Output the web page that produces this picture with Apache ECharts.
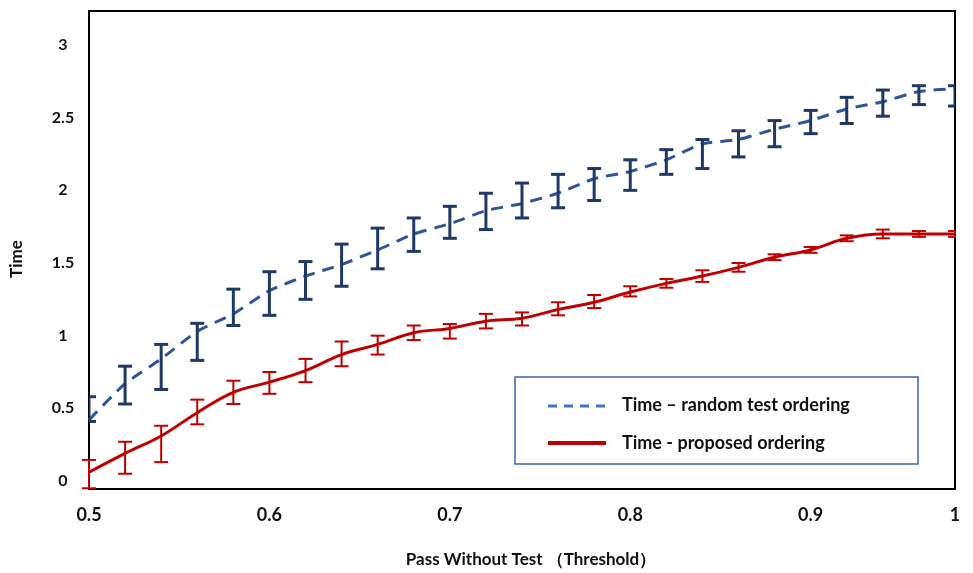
<!DOCTYPE html>
<html>
<head>
    <meta charset="utf-8">
    <title>Time vs threshold</title>
    <script src="https://cdn.jsdelivr.net/npm/echarts@6/dist/echarts.min.js"></script>
    <style>
        html, body { margin: 0; padding: 0; background: #fff; }
        #main { width: 973px; height: 573px; }
    </style>
</head>
<body>
<div id="main"></div>
<script type="text/javascript">
    // thresholds (x), one point every 0.02
    var thresholds = [0.50, 0.52, 0.54, 0.56, 0.58, 0.60, 0.62, 0.64, 0.66, 0.68, 0.70, 0.72, 0.74,
                      0.76, 0.78, 0.80, 0.82, 0.84, 0.86, 0.88, 0.90, 0.92, 0.94, 0.96, 0.98];

    // Time - random test ordering (line value, error bar low / high)
    var randomTime = [0.42, 0.67, 0.84, 1.03, 1.15, 1.31, 1.41, 1.49, 1.59, 1.70, 1.77, 1.86, 1.91,
                      1.98, 2.08, 2.13, 2.21, 2.32, 2.35, 2.42, 2.48, 2.56, 2.61, 2.68, 2.70];
    var randomLow  = [0.41, 0.53, 0.63, 0.83, 1.07, 1.14, 1.25, 1.34, 1.46, 1.58, 1.67, 1.73, 1.81,
                      1.88, 1.93, 2.00, 2.11, 2.15, 2.23, 2.30, 2.39, 2.46, 2.51, 2.59, 2.58];
    var randomHigh = [0.58, 0.79, 0.94, 1.085, 1.32, 1.44, 1.51, 1.63, 1.74, 1.81, 1.89, 1.98, 2.05,
                      2.11, 2.15, 2.21, 2.28, 2.35, 2.41, 2.48, 2.55, 2.64, 2.69, 2.72, 2.72];

    // Time - proposed ordering
    var proposedTime = [0.06, 0.19, 0.31, 0.47, 0.61, 0.68, 0.76, 0.87, 0.94, 1.02, 1.05, 1.10, 1.12,
                        1.18, 1.23, 1.30, 1.36, 1.41, 1.47, 1.54, 1.59, 1.67, 1.70, 1.70, 1.70];
    var proposedLow  = [-0.05, 0.05, 0.13, 0.39, 0.53, 0.60, 0.68, 0.79, 0.87, 0.97, 0.98, 1.05, 1.07,
                        1.14, 1.19, 1.27, 1.33, 1.37, 1.44, 1.52, 1.57, 1.65, 1.67, 1.68, 1.68];
    var proposedHigh = [0.145, 0.27, 0.38, 0.56, 0.69, 0.75, 0.84, 0.96, 1.00, 1.07, 1.08, 1.15, 1.16,
                        1.23, 1.28, 1.34, 1.39, 1.45, 1.50, 1.56, 1.61, 1.69, 1.73, 1.72, 1.72];

    var seriesNames = ['Time \u2013 random test ordering', 'Time - proposed ordering'];
    var yTicks = [0, 0.5, 1, 1.5, 2, 2.5, 3];
    var xTicks = [0.5, 0.6, 0.7, 0.8, 0.9, 0.98];

    var blueLine = '#2F5597';
    var blueBar = '#1F3864';
    var red = '#C00000';
    var font = 'Lato';

    function pairs(ys) {
        var out = [];
        for (var i = 0; i < thresholds.length; i++) out.push([thresholds[i], ys[i]]);
        return out;
    }
    function bars(lo, hi) {
        var out = [];
        for (var i = 0; i < thresholds.length; i++) out.push([thresholds[i], lo[i], hi[i]]);
        return out;
    }

    // draws an I-shaped error bar for each point
    function errorBar(color, width, cap) {
        return function (params, api) {
            var x = api.value(0);
            var top = api.coord([x, api.value(2)]);
            var bot = api.coord([x, api.value(1)]);
            var st = { stroke: color, lineWidth: width };
            return {
                type: 'group',
                children: [
                    { type: 'line', shape: { x1: top[0], y1: top[1], x2: bot[0], y2: bot[1] }, style: st },
                    { type: 'line', shape: { x1: top[0] - cap, y1: top[1], x2: top[0] + cap, y2: top[1] }, style: st },
                    { type: 'line', shape: { x1: bot[0] - cap, y1: bot[1], x2: bot[0] + cap, y2: bot[1] }, style: st }
                ]
            };
        };
    }

    var legendText = { fontFamily: font, fontWeight: 'bold', fontSize: 18, fill: '#111', verticalAlign: 'middle' };

    var myChart = echarts.init(document.getElementById('main'));

    var option = {
        backgroundColor: '#fff',
        animation: false,
        grid: {
            left: 89, right: 18, top: 11, bottom: 84,
            show: true, borderColor: '#000', borderWidth: 2
        },
        graphic: [
            // the plot is cut at its right border in the original
            { type: 'rect', shape: { x: 956, y: 0, width: 17, height: 495 },
              style: { fill: '#fff' }, z: 20, silent: true },
            // boxed legend like the original
            { type: 'rect', shape: { x: 515, y: 377, width: 403, height: 87 },
              style: { fill: '#fff', stroke: '#3E64A8', lineWidth: 1.5 }, z: 10 },
            { type: 'line', shape: { x1: 548, y1: 406, x2: 606, y2: 406 },
              style: { stroke: '#4472C4', lineWidth: 3, lineDash: [9, 7] }, z: 11 },
            { type: 'text', x: 622, y: 405, style: Object.assign({ text: seriesNames[0] }, legendText), z: 11 },
            { type: 'line', shape: { x1: 548, y1: 443, x2: 606, y2: 443 },
              style: { stroke: red, lineWidth: 4 }, z: 11 },
            { type: 'text', x: 622, y: 443, style: Object.assign({ text: seriesNames[1] }, legendText), z: 11 }
        ],
        xAxis: {
            type: 'value', min: 0.5, max: 0.98,
            name: 'Pass Without Test \uFF08Threshold\uFF09',
            nameLocation: 'middle', nameGap: 62,
            nameTextStyle: { fontFamily: font, fontWeight: 'bold', fontSize: 17, color: '#111', padding: [0, 0, 0, 18] },
            axisLine: { onZero: false, lineStyle: { color: '#000', width: 2 } },
            axisTick: { show: false },
            splitLine: { show: false },
            axisLabel: {
                customValues: xTicks, margin: 17,
                fontFamily: font, fontWeight: 'bold', fontSize: 18, color: '#111',
                formatter: function (v) { return v > 0.95 ? '1' : String(v); }
            }
        },
        yAxis: {
            type: 'value', min: -0.055, max: 3.234,
            name: 'Time', nameLocation: 'middle', nameGap: 64,
            nameTextStyle: { fontFamily: font, fontWeight: 'bold', fontSize: 17, color: '#111', padding: [0, 18, 0, 0] },
            axisLine: { show: true, onZero: false, lineStyle: { color: '#000', width: 2 } },
            axisTick: { show: false },
            splitLine: { show: false },
            axisLabel: {
                customValues: yTicks, margin: 26, align: 'center',
                fontFamily: font, fontWeight: 'bold', fontSize: 16, color: '#111'
            }
        },
        series: [
            {
                name: seriesNames[0],
                type: 'line', data: pairs(randomTime),
                symbol: 'none', smooth: 0.2,
                lineStyle: { color: blueLine, width: 3, type: [12, 8] },
                z: 3
            },
            {
                name: seriesNames[1],
                type: 'line', data: pairs(proposedTime),
                symbol: 'none', smooth: 0.4,
                lineStyle: { color: red, width: 3 },
                z: 3
            },
            {
                type: 'custom', data: bars(randomLow, randomHigh),
                renderItem: errorBar(blueBar, 3, 7), clip: true,
                encode: { x: 0, y: [1, 2] }, z: 4, silent: true
            },
            {
                type: 'custom', data: bars(proposedLow, proposedHigh),
                renderItem: errorBar(red, 2, 7),
                encode: { x: 0, y: [1, 2] }, z: 4, silent: true
            }
        ]
    };

    myChart.setOption(option);
</script>
</body>
</html>
